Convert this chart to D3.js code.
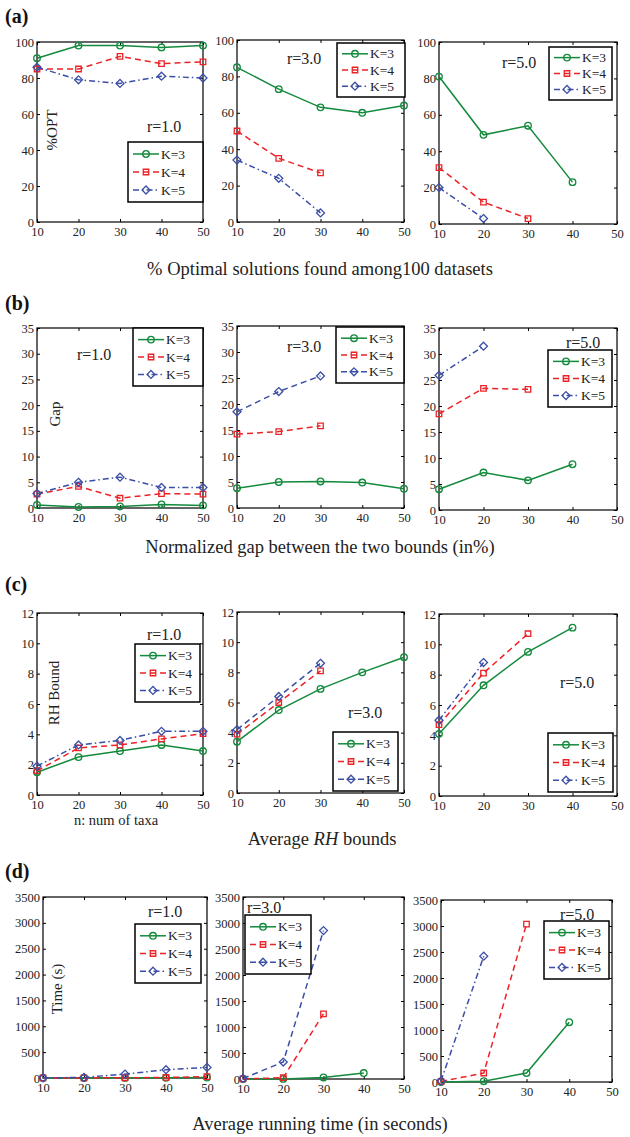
<!DOCTYPE html>
<html>
<head>
<meta charset="utf-8">
<script src="https://cdn.jsdelivr.net/npm/d3@7"></script>
<style>
  body { margin: 0; background: #fff; }
  svg text { font-family: "Liberation Serif", "Times New Roman", serif; }
</style>
</head>
<body>
<svg id="chart" width="630" height="1137"></svg>
<script>
// x values (n: num of taxa) and series names
const nTaxa = [10, 20, 30, 40, 50];
const seriesNames = ['K=3', 'K=4', 'K=5'];

// (a) % optimal solutions found, rows are K=3, K=4, K=5
const optR1 = [[91, 98, 98, 97, 98], [85, 85, 92, 88, 89], [86, 79, 77, 81, 80]];
const optR3 = [[85, 73, 63, 60, 64], [50, 35, 27], [34, 24, 5]];
const optR5 = [[81, 49, 54, 23], [31, 12, 3], [20, 3]];

// (b) normalized gap (%)
const gapR1 = [[0.6, 0.2, 0.3, 0.7, 0.5], [2.7, 4.2, 1.9, 2.8, 2.7], [2.8, 5.0, 6.0, 4.0, 4.0]];
const gapR3 = [[3.8, 5.0, 5.1, 4.9, 3.7], [14.2, 14.7, 15.8], [18.5, 22.4, 25.4]];
const gapR5 = [[4.0, 7.2, 5.7, 8.8], [18.5, 23.4, 23.2], [25.9, 31.5]];

// (c) RH bound
const rhR1 = [[1.5, 2.5, 2.9, 3.3, 2.9], [1.6, 3.1, 3.3, 3.7, 4.05], [1.9, 3.3, 3.6, 4.2, 4.2]];
const rhR3 = [[3.4, 5.5, 6.9, 8.0, 9.0], [3.9, 6.0, 8.1], [4.2, 6.4, 8.6]];
const rhR5 = [[4.1, 7.3, 9.5, 11.1], [4.7, 8.1, 10.7], [5.0, 8.8]];

// (d) running time (s)
const timeR1 = [[0.5, 1, 2, 4, 8], [0.5, 2, 5, 10, 25], [1, 12, 75, 160, 205]];
const timeR3 = [[0.5, 2, 30, 115], [1, 25, 1254], [10, 326, 2854]];
const timeR5 = [[0.5, 15, 173, 1150], [10, 173, 3037], [20, 2420]];

// tick labels
const xTicks = [10, 20, 30, 40, 50];
const optTicks = [0, 20, 40, 60, 80, 100];
const gapTicks = [0, 5, 10, 15, 20, 25, 30, 35];
const rhTicks = [0, 2, 4, 6, 8, 10, 12];
const timeTicks = [0, 500, 1000, 1500, 2000, 2500, 3000, 3500];

const rLabels = ['r=1.0', 'r=3.0', 'r=5.0'];

const colors = ['#138a3c', '#ec2227', '#3a4ea6'];
const DASH = '6,4';
const DASHDOT = '6,3,1.5,3';

const svg = d3.select('#chart');
svg.append('rect').attr('width', 630).attr('height', 1137).attr('fill', '#fff');

// layout of each row: box = [x0, x1, y0, y1], legend = [x, y, w, h], r = [x, y]
const rows = [
  {
    tag: '(a)', tagY: 23, caption: '% Optimal solutions found among100 datasets', captionY: 275,
    ylabel: '%OPT', ylabelPos: [52, 130], ticks: optTicks,
    data: [optR1, optR3, optR5],
    panels: [
      {box: [37, 203, 42, 222], legend: [128, 142, 75, 60], r: [147, 132], k5: DASHDOT},
      {box: [237, 404, 40, 222], legend: [337, 43, 68, 54], r: [287, 64], k5: DASHDOT},
      {box: [439, 617, 42, 224], legend: [549, 47, 63, 53], r: [502, 68], k5: DASHDOT}
    ]
  },
  {
    tag: '(b)', tagY: 310, caption: 'Normalized gap between the two bounds (in%)', captionY: 553,
    ylabel: 'Gap', ylabelPos: [55, 414], ticks: gapTicks,
    data: [gapR1, gapR3, gapR5],
    panels: [
      {box: [37, 203, 328, 508], legend: [133, 328, 70, 58], r: [77, 360], k5: DASHDOT},
      {box: [237, 404, 326, 508], legend: [336, 327, 68, 56], r: [287, 352], k5: DASH},
      {box: [439, 617, 328, 510], legend: [548, 350, 64, 57], r: [566, 348], k5: DASHDOT}
    ]
  },
  {
    tag: '(c)', tagY: 591, caption: null, captionY: 845,
    ylabel: 'RH Bound', ylabelPos: [54, 693], ticks: rhTicks,
    data: [rhR1, rhR3, rhR5],
    panels: [
      {box: [37, 203, 613, 795], legend: [135, 644, 65, 58], r: [147, 640], k5: DASHDOT},
      {box: [237, 404, 612, 793], legend: [333, 732, 65, 59], r: [348, 718], k5: DASH},
      {box: [439, 617, 614, 796], legend: [548, 733, 65, 59], r: [560, 688], k5: DASHDOT}
    ]
  },
  {
    tag: '(d)', tagY: 878, caption: 'Average running time (in seconds)', captionY: 1130,
    ylabel: 'Time (s)', ylabelPos: [57, 989], ticks: timeTicks,
    data: [timeR1, timeR3, timeR5],
    panels: [
      {box: [43, 207, 897, 1078], legend: [135, 924, 66, 59], r: [148, 917], k5: DASHDOT},
      {box: [243, 404, 897, 1079], legend: [245, 915, 66, 59], r: [247, 913], k5: DASH},
      {box: [441, 612, 900, 1082], legend: [544, 921, 65, 58], r: [560, 920], k5: DASHDOT}
    ]
  }
];

const symbols = [d3.symbolCircle, d3.symbolSquare, d3.symbolDiamond2];
const symbolSizes = [34, 30, 40];

function marker(g, i, cx, cy) {
  g.append('path')
    .attr('d', d3.symbol().type(symbols[i]).size(symbolSizes[i])())
    .attr('transform', `translate(${cx},${cy})`)
    .attr('fill', 'none')
    .attr('stroke', colors[i])
    .attr('stroke-width', 1.3);
}

function styleAxis(sel) {
  sel.select('.domain').remove();
  sel.selectAll('line').attr('stroke', '#000');
  sel.selectAll('text')
    .attr('font-family', '"Liberation Serif", serif')
    .attr('font-size', 12.5)
    .attr('fill', '#222');
}

function drawPanel(p, series, ticks, rLabel) {
  const [x0, x1, y0, y1] = p.box;
  const x = d3.scaleLinear().domain([10, 50]).range([x0, x1]);
  const y = d3.scaleLinear().domain([0, ticks[ticks.length - 1]]).range([y1, y0]);
  const g = svg.append('g');

  g.append('g').attr('transform', `translate(0,${y1})`)
    .call(d3.axisBottom(x).tickValues(xTicks).tickSize(-3).tickPadding(5)).call(styleAxis);
  g.append('g').attr('transform', `translate(0,${y0})`)
    .call(d3.axisTop(x).tickValues(xTicks).tickSize(-3).tickFormat('')).call(styleAxis);
  g.append('g').attr('transform', `translate(${x0},0)`)
    .call(d3.axisLeft(y).tickValues(ticks).tickSize(-3).tickPadding(3).tickFormat(d3.format('d')))
    .call(styleAxis);
  g.append('g').attr('transform', `translate(${x1},0)`)
    .call(d3.axisRight(y).tickValues(ticks).tickSize(-3).tickFormat('')).call(styleAxis);

  g.append('rect')
    .attr('x', x0).attr('y', y0).attr('width', x1 - x0).attr('height', y1 - y0)
    .attr('fill', 'none').attr('stroke', '#000').attr('stroke-width', 1.2);

  const dashes = [null, DASH, p.k5];
  const line = d3.line().x(d => x(d[0])).y(d => y(d[1]));

  series.forEach((vals, i) => {
    const pts = vals.map((v, j) => [nTaxa[j], v]);
    g.append('path').datum(pts)
      .attr('d', line)
      .attr('fill', 'none')
      .attr('stroke', colors[i])
      .attr('stroke-width', 1.5)
      .attr('stroke-dasharray', dashes[i]);
    pts.forEach(d => marker(g, i, x(d[0]), y(d[1])));
  });

  // r label
  g.append('text').attr('x', p.r[0]).attr('y', p.r[1])
    .attr('font-size', 16).attr('fill', '#222').text(rLabel);

  // legend
  const [lx, ly, lw, lh] = p.legend;
  g.append('rect').attr('x', lx).attr('y', ly).attr('width', lw).attr('height', lh)
    .attr('fill', '#fff').attr('stroke', '#000').attr('stroke-width', 1.5);
  seriesNames.forEach((name, i) => {
    const ey = ly + lh * (0.2 + i * 0.3);
    g.append('line')
      .attr('x1', lx + 5).attr('x2', lx + 31).attr('y1', ey).attr('y2', ey)
      .attr('stroke', colors[i]).attr('stroke-width', 1.5)
      .attr('stroke-dasharray', dashes[i]);
    marker(g, i, lx + 18, ey);
    g.append('text').attr('x', lx + 33).attr('y', ey + 4.5)
      .attr('font-size', 13.5).attr('fill', '#222').text(name);
  });
}

rows.forEach(row => {
  row.panels.forEach((p, k) => drawPanel(p, row.data[k], row.ticks, rLabels[k]));

  svg.append('text').attr('x', 5).attr('y', row.tagY)
    .attr('font-size', 20).attr('font-weight', 'bold').attr('fill', '#111').text(row.tag);

  svg.append('text')
    .attr('transform', `translate(${row.ylabelPos[0]},${row.ylabelPos[1]}) rotate(-90)`)
    .attr('text-anchor', 'middle').attr('dominant-baseline', 'central')
    .attr('font-size', 15).attr('fill', '#222').text(row.ylabel);

  if (row.caption) {
    svg.append('text').attr('x', 320).attr('y', row.captionY)
      .attr('text-anchor', 'middle').attr('font-size', 18.5).attr('fill', '#222')
      .text(row.caption);
  }
});

// caption of (c) with italic RH
const capC = svg.append('text').attr('x', 322).attr('y', 845)
  .attr('text-anchor', 'middle').attr('font-size', 18.5).attr('fill', '#222');
capC.append('tspan').text('Average ');
capC.append('tspan').attr('font-style', 'italic').text('RH');
capC.append('tspan').text(' bounds');

svg.append('text').attr('x', 116).attr('y', 825)
  .attr('text-anchor', 'middle').attr('font-size', 14.5).attr('fill', '#222')
  .text('n: num of taxa');
</script>
</body>
</html>
